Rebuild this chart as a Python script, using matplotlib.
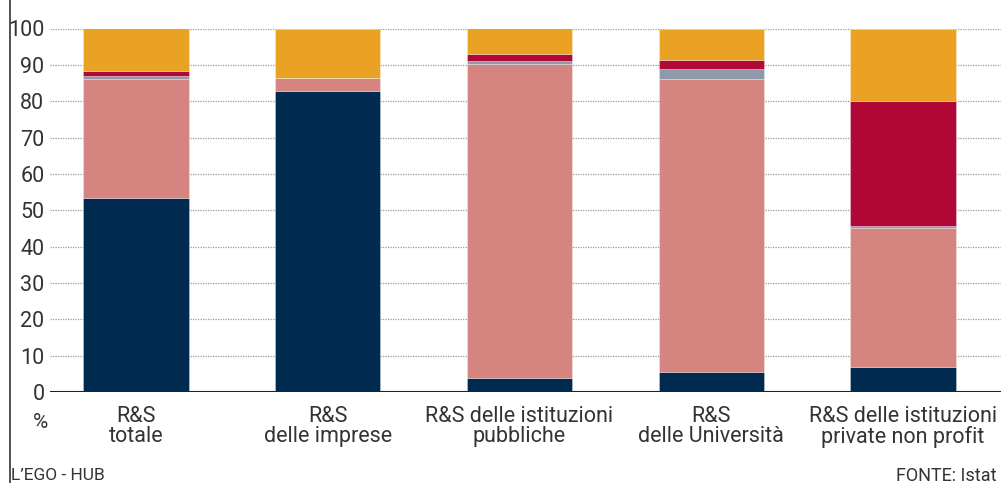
import matplotlib
matplotlib.use("Agg")
import matplotlib.pyplot as plt
from matplotlib.lines import Line2D
import numpy as np

categories = ["R&S\ntotale", "R&S\ndelle imprese", "R&S delle istituzioni\npubbliche",
              "R&S\ndelle Università", "R&S delle istituzioni\nprivate non profit"]
navy = [53.4, 82.8, 3.8, 5.6, 6.8]
pink = [32.8, 3.6, 86.3, 80.4, 38.2]
grey = [0.7, 0.0, 0.9, 2.9, 0.7]
red = [1.4, 0.0, 2.1, 2.4, 34.4]
orange = [11.7, 13.6, 6.9, 8.7, 19.9]
yticks = [0, 10, 20, 30, 40, 50, 60, 70, 80, 90, 100]

series = [navy, pink, grey, red, orange]
colors = ["#002a4f", "#d5847f", "#8e99a9", "#b10838", "#eaa224"]

plt.rcParams['font.family'] = ['Roboto', 'DejaVu Sans']
W, H = 1001, 483
fig = plt.figure(figsize=(W/100, H/100), dpi=100)
ax = fig.add_axes([50/W, 1-392/H, (W-50)/W, (392-28.5)/H])

x = np.arange(len(categories))
bottom = np.zeros(len(categories))
for vals, c in zip(series, colors):
    v = np.array(vals)
    ax.bar(x, v, bottom=bottom, width=0.55, color=c, edgecolor=(1, 1, 1, 0.35),
           linewidth=0.6, zorder=2)
    bottom += v

ax.set_xlim(-0.448, 4.51)
ax.set_ylim(0, 100)
for s in ax.spines.values():
    s.set_visible(False)
for t in yticks[1:]:
    ax.axhline(t, color="#9a9a9a", lw=0.9, ls=(0, (1, 1)), zorder=1)
ax.axhline(0, color="#222222", lw=2.2, zorder=3)
ax.set_yticks(yticks)
ax.set_yticklabels([str(t) for t in yticks], fontsize=15.5, color="#333333")
ax.tick_params(axis='y', length=0, pad=4)
ax.set_xticks(x)
ax.set_xticklabels(categories, fontsize=15.5, color="#333333", linespacing=0.95)
ax.tick_params(axis='x', length=0, pad=10)

fig.add_artist(Line2D([9.5/W, 9.5/W], [0, 1], color="#333333", lw=1.2))
fig.text(40/W, 1-423/H, "%", fontsize=15, color="#333333", ha="center", va="center")
fig.text(11/W, 1-476/H, "L\u2019EGO - HUB", fontsize=12.5, color="#333333", ha="left", va="center")
fig.text(997/W, 1-476/H, "FONTE: Istat", fontsize=13, color="#333333", ha="right", va="center")

fig.savefig("out.png", dpi=100)
